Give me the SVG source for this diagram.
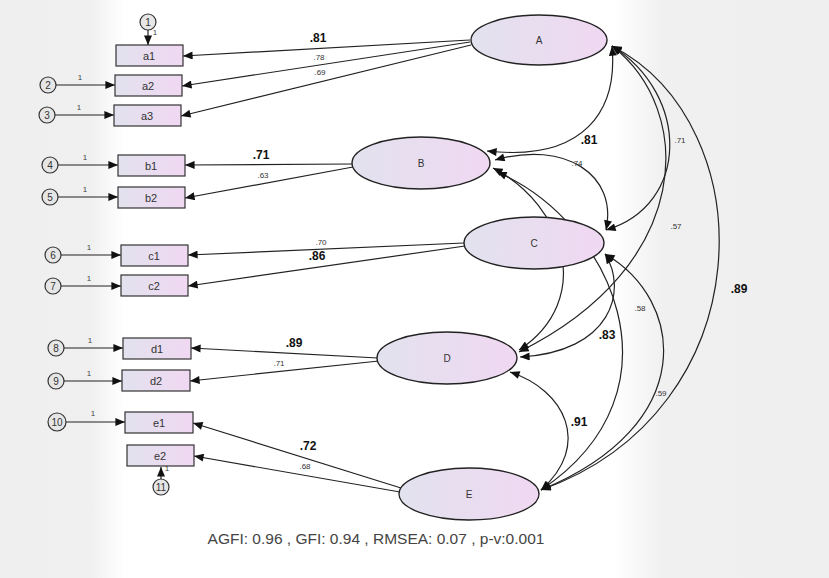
<svg xmlns="http://www.w3.org/2000/svg" width="829" height="578" viewBox="0 0 829 578">
<defs>
<linearGradient id="bg" x1="0" y1="0" x2="1" y2="0">
<stop offset="0" stop-color="#efefef"/>
<stop offset="0.11" stop-color="#f0f0f0"/>
<stop offset="0.15" stop-color="#ffffff"/>
<stop offset="0.74" stop-color="#ffffff"/>
<stop offset="0.8" stop-color="#f0f0f0"/>
<stop offset="1" stop-color="#efefef"/>
</linearGradient>
<linearGradient id="fill" x1="0" y1="0" x2="1" y2="0">
<stop offset="0" stop-color="#e2e2ee"/>
<stop offset="1" stop-color="#f0d8f2"/>
</linearGradient>
<marker id="ah" viewBox="0 0 12 10" refX="12" refY="5" markerWidth="12" markerHeight="8" markerUnits="userSpaceOnUse" orient="auto-start-reverse">
<path d="M0,0 L12,5 L0,10 z" fill="#111"/>
</marker>
<style>
.box{fill:url(#fill);stroke:#333;stroke-width:1.2}
.ell{fill:url(#fill);stroke:#222;stroke-width:1.4}
.err{fill:#e6e6e6;stroke:#333;stroke-width:1.2}
.ln{fill:none;stroke:#222;stroke-width:1.2;marker-end:url(#ah)}
.cv{fill:none;stroke:#222;stroke-width:1.2;marker-end:url(#ah);marker-start:url(#ah)}
.t{font-family:"Liberation Sans",Arial,sans-serif;fill:#333;text-anchor:middle}
.bt{font-size:11px}
.et{font-size:10px}
.one{font-size:8px;fill:#444}
.sm{font-size:8px;fill:#333}
.bd{font-size:12px;font-weight:bold;fill:#111}
</style>
</defs>
<rect x="0" y="0" width="829" height="578" fill="url(#bg)"/>

<g id="connectors">
<line class="ln" x1="148" y1="30" x2="148" y2="45"/>
<line class="ln" x1="56" y1="85" x2="115" y2="85"/>
<line class="ln" x1="55" y1="115" x2="114" y2="115"/>
<line class="ln" x1="58" y1="165" x2="118" y2="165"/>
<line class="ln" x1="58" y1="197" x2="118" y2="197"/>
<line class="ln" x1="61" y1="255" x2="121" y2="255"/>
<line class="ln" x1="61" y1="286" x2="121" y2="286"/>
<line class="ln" x1="64" y1="348" x2="123" y2="348"/>
<line class="ln" x1="64" y1="381" x2="122" y2="381"/>
<line class="ln" x1="66" y1="422" x2="125" y2="422"/>
<line class="ln" x1="161" y1="479" x2="161" y2="467"/>
<line class="ln" x1="470" y1="40" x2="183" y2="56"/>
<line class="ln" x1="470" y1="42" x2="182" y2="86"/>
<line class="ln" x1="471" y1="45" x2="181" y2="116"/>
<line class="ln" x1="352" y1="164" x2="185" y2="165"/>
<line class="ln" x1="353" y1="167" x2="185" y2="198"/>
<line class="ln" x1="464" y1="243" x2="188" y2="255"/>
<line class="ln" x1="465" y1="246" x2="188" y2="286"/>
<line class="ln" x1="378" y1="358" x2="191" y2="348"/>
<line class="ln" x1="379" y1="361" x2="190" y2="381"/>
<line class="ln" x1="401" y1="488" x2="193" y2="423"/>
<line class="ln" x1="400" y1="492" x2="194" y2="456"/>
<path class="cv" d="M612,46 C618,110 585,162 487,151"/>
<path class="cv" d="M612,46 C690,95 690,205 606,230"/>
<path class="cv" d="M612,46 C695,110 695,265 519,352"/>
<path class="cv" d="M612,46 C765,125 765,410 541,490"/>
<path class="cv" d="M495,160 C565,140 618,175 606,230"/>
<path class="cv" d="M493,168 C565,205 595,300 519,350"/>
<path class="cv" d="M497,172 C610,220 690,390 541,490"/>
<path class="cv" d="M605,254 C628,290 612,352 520,357"/>
<path class="cv" d="M605,254 C685,300 700,425 541,490"/>
<path class="cv" d="M510,372 C565,390 592,445 541,490"/>
</g>

<g id="labels">
<text class="t one" x="155" y="35">1</text>
<text class="t one" x="80" y="80">1</text>
<text class="t one" x="79" y="110">1</text>
<text class="t one" x="85" y="160">1</text>
<text class="t one" x="85" y="192">1</text>
<text class="t one" x="89" y="250">1</text>
<text class="t one" x="89" y="281">1</text>
<text class="t one" x="90" y="343">1</text>
<text class="t one" x="89" y="376">1</text>
<text class="t one" x="93" y="416">1</text>
<text class="t one" x="167" y="471">1</text>
<text class="t bd" x="318" y="42">.81</text>
<text class="t sm" x="319" y="60">.78</text>
<text class="t sm" x="320" y="75">.69</text>
<text class="t bd" x="261" y="159">.71</text>
<text class="t sm" x="263" y="178">.63</text>
<text class="t sm" x="321" y="245">.70</text>
<text class="t bd" x="317" y="260">.86</text>
<text class="t bd" x="294" y="347">.89</text>
<text class="t sm" x="279" y="366">.71</text>
<text class="t bd" x="308" y="450">.72</text>
<text class="t sm" x="305" y="469">.68</text>
<text class="t bd" x="589" y="144">.81</text>
<text class="t sm" x="577" y="166">.74</text>
<text class="t sm" x="680" y="143">.71</text>
<text class="t sm" x="676" y="229">.57</text>
<text class="t sm" x="577" y="256">.66</text>
<text class="t sm" x="640" y="311">.58</text>
<text class="t bd" x="607" y="339">.83</text>
<text class="t bd" x="739" y="293">.89</text>
<text class="t sm" x="661" y="396">.59</text>
<text class="t bd" x="579" y="426">.91</text>
<text class="t" x="376" y="544" style="font-size:15.5px;fill:#444">AGFI: 0.96 , GFI: 0.94 , RMSEA: 0.07 , p-v:0.001</text>
</g>

<g id="e1c"><circle class="err" cx="148" cy="22" r="8"/><text class="t et" x="148" y="26">1</text></g>
<g id="e2c"><circle class="err" cx="48" cy="85" r="8"/><text class="t et" x="48" y="89">2</text></g>
<g id="e3c"><circle class="err" cx="47" cy="115" r="8"/><text class="t et" x="47" y="119">3</text></g>
<g id="e4c"><circle class="err" cx="50" cy="165" r="8"/><text class="t et" x="50" y="169">4</text></g>
<g id="e5c"><circle class="err" cx="50" cy="197" r="8"/><text class="t et" x="50" y="201">5</text></g>
<g id="e6c"><circle class="err" cx="53" cy="255" r="8"/><text class="t et" x="53" y="259">6</text></g>
<g id="e7c"><circle class="err" cx="53" cy="286" r="8"/><text class="t et" x="53" y="290">7</text></g>
<g id="e8c"><circle class="err" cx="56" cy="348" r="8"/><text class="t et" x="56" y="352">8</text></g>
<g id="e9c"><circle class="err" cx="56" cy="381" r="8"/><text class="t et" x="56" y="385">9</text></g>
<g id="e10c"><circle class="err" cx="57" cy="422" r="9"/><text class="t et" x="57" y="426">10</text></g>
<g id="e11c"><circle class="err" cx="161" cy="487" r="8"/><text class="t et" x="161" y="491">11</text></g>

<g id="a1"><rect class="box" x="116" y="45" width="67" height="21"/><text class="t bt" x="149" y="60">a1</text></g>
<g id="a2"><rect class="box" x="115" y="75" width="67" height="21"/><text class="t bt" x="148" y="90">a2</text></g>
<g id="a3"><rect class="box" x="114" y="105" width="67" height="21"/><text class="t bt" x="147" y="120">a3</text></g>
<g id="b1"><rect class="box" x="118" y="155" width="67" height="21"/><text class="t bt" x="151" y="170">b1</text></g>
<g id="b2"><rect class="box" x="118" y="187" width="67" height="21"/><text class="t bt" x="151" y="202">b2</text></g>
<g id="c1"><rect class="box" x="121" y="245" width="67" height="21"/><text class="t bt" x="154" y="260">c1</text></g>
<g id="c2"><rect class="box" x="121" y="275" width="67" height="21"/><text class="t bt" x="154" y="290">c2</text></g>
<g id="d1"><rect class="box" x="123" y="338" width="68" height="21"/><text class="t bt" x="157" y="353">d1</text></g>
<g id="d2"><rect class="box" x="122" y="370" width="68" height="21"/><text class="t bt" x="156" y="385">d2</text></g>
<g id="e1"><rect class="box" x="125" y="412" width="68" height="21"/><text class="t bt" x="159" y="427">e1</text></g>
<g id="e2"><rect class="box" x="127" y="445" width="67" height="21"/><text class="t bt" x="160" y="460">e2</text></g>

<g id="A"><ellipse class="ell" cx="539" cy="40" rx="68" ry="25"/><text class="t et" x="539" y="44">A</text></g>
<g id="B"><ellipse class="ell" cx="421" cy="163" rx="69" ry="26"/><text class="t et" x="421" y="167">B</text></g>
<g id="C"><ellipse class="ell" cx="534" cy="243" rx="70" ry="26"/><text class="t et" x="534" y="247">C</text></g>
<g id="D"><ellipse class="ell" cx="447" cy="358" rx="70" ry="26"/><text class="t et" x="447" y="362">D</text></g>
<g id="E"><ellipse class="ell" cx="469" cy="494" rx="70" ry="26"/><text class="t et" x="469" y="498">E</text></g>
</svg>
